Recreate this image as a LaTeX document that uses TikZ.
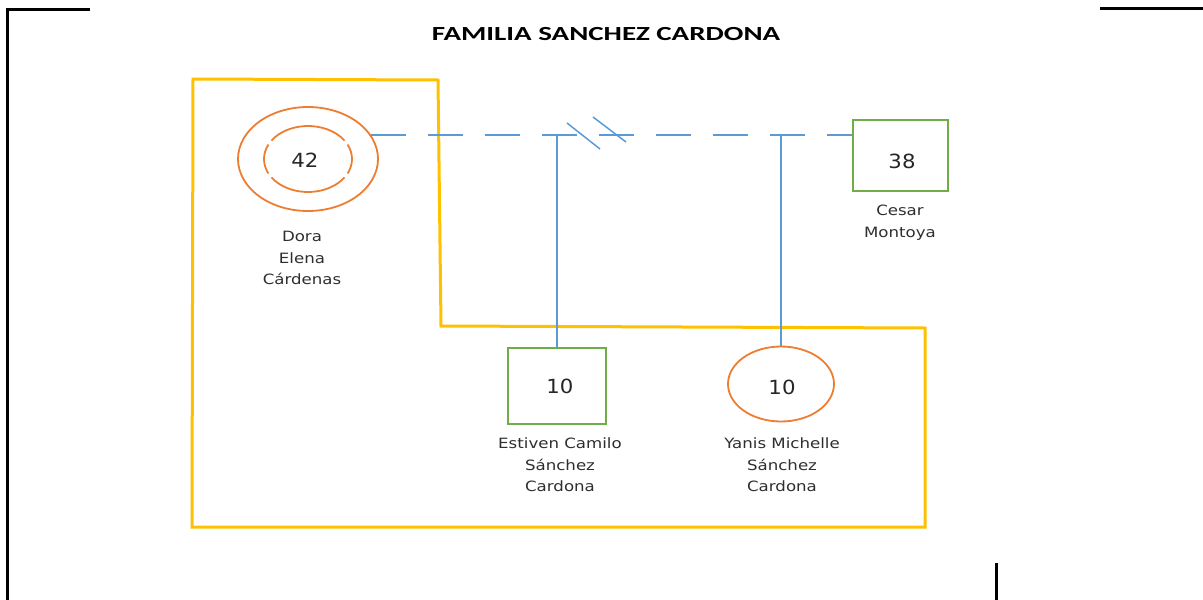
\documentclass[tikz,border=0pt]{standalone}
\usepackage{fontspec}
\usetikzlibrary{shapes.geometric}
\newfontfamily\labfont{DejaVu Sans}
\newfontfamily\ttlfont{Carlito}
\definecolor{yel}{HTML}{FFC000}
\definecolor{org}{HTML}{ED7D31}
\definecolor{grn}{HTML}{70AD47}
\definecolor{blu}{HTML}{5B9BD5}
\definecolor{txt}{HTML}{262626}
\definecolor{labtxt}{HTML}{2E2E2E}
\tikzset{
  frameline/.style={line width=3pt, black},
  genoline/.style={line width=3pt, yel, line join=miter},
  relline/.style={line width=1.5pt, blu},
  femalebox/.style={ellipse, draw=org, line width=1.8pt, inner sep=0pt},
  malebox/.style={rectangle, draw=grn, line width=1.5pt, inner sep=0pt},
  agetext/.style={font=\labfont\fontsize{19.5}{20}\selectfont, text=txt, transform shape, xscale=1.09},
  nametext/.style={font=\labfont\fontsize{14.2}{21.5}\selectfont, text=labtxt, align=center, transform shape, xscale=1.17},
  titletext/.style={font=\ttlfont\bfseries\fontsize{20}{24}\selectfont, text=black, transform shape, xscale=1.45}
}
\begin{document}
\begin{tikzpicture}[x=1pt, y=-1pt]
\useasboundingbox (0,0) rectangle (1203,600);
% page frame corners
\draw[frameline] (90,9) -- (7,9) -- (7,600);
\draw[frameline] (1100,8) -- (1203,8);
\draw[frameline] (996,563) -- (996,600);
% household boundary
\draw[genoline] (193,79) -- (438,80) -- (441,326) -- (925,328) -- (925,527) -- (192,527) -- cycle;
% title
\node[titletext] (title) at (606,34) {FAMILIA SANCHEZ CARDONA};
% persons
\node[femalebox, minimum width=140pt, minimum height=104pt] (dora) at (308,159) {};
\node[agetext] (doraage) at (305,160) {42};
\node[malebox, minimum width=95pt, minimum height=71pt] (cesar) at (900.5,155.5) {};
\node[agetext] (cesarage) at (902,161) {38};
\node[malebox, minimum width=98pt, minimum height=76pt] (estiven) at (557,386) {};
\node[agetext] (estivenage) at (560,386) {10};
\node[femalebox, minimum width=106pt, minimum height=75pt] (yanis) at (781,384) {};
\node[agetext] (yanisage) at (782,387) {10};
% inner (index person) circle with gaps
\draw[org, line width=1.8pt] (dora.center) ++(34:44pt and 33pt) arc[start angle=34, end angle=146, x radius=44pt, y radius=33pt];
\draw[org, line width=1.8pt] (dora.center) ++(154:44pt and 33pt) arc[start angle=154, end angle=206, x radius=44pt, y radius=33pt];
\draw[org, line width=1.8pt] (dora.center) ++(214:44pt and 33pt) arc[start angle=214, end angle=326, x radius=44pt, y radius=33pt];
\draw[org, line width=1.8pt] (dora.center) ++(334:44pt and 33pt) arc[start angle=334, end angle=386, x radius=44pt, y radius=33pt];
% names
\node[nametext] (doraname) at (302,258) {Dora\\Elena\\Cárdenas};
\node[nametext] (cesarname) at (900,222.5) {Cesar\\Montoya};
\node[nametext] (estivenname) at (560,465) {Estiven Camilo\\Sánchez\\Cardona};
\node[nametext] (yanisname) at (782,465) {Yanis Michelle\\Sánchez\\Cardona};
% relationship line
\coordinate (relstart) at (dora.21);
\coordinate (relend) at (relstart -| cesar.west);
\draw[relline, dash pattern=on 35pt off 22pt] (relstart) -- (relend);
% divorce marks
\draw[relline] (567,123) -- (600,149);
\draw[relline] (593,117) -- (626,142);
% children lines
\draw[relline] (estiven.north |- relstart) -- (estiven.north);
\draw[relline] (yanis.north |- relstart) -- (yanis.north);
\end{tikzpicture}
\end{document}
